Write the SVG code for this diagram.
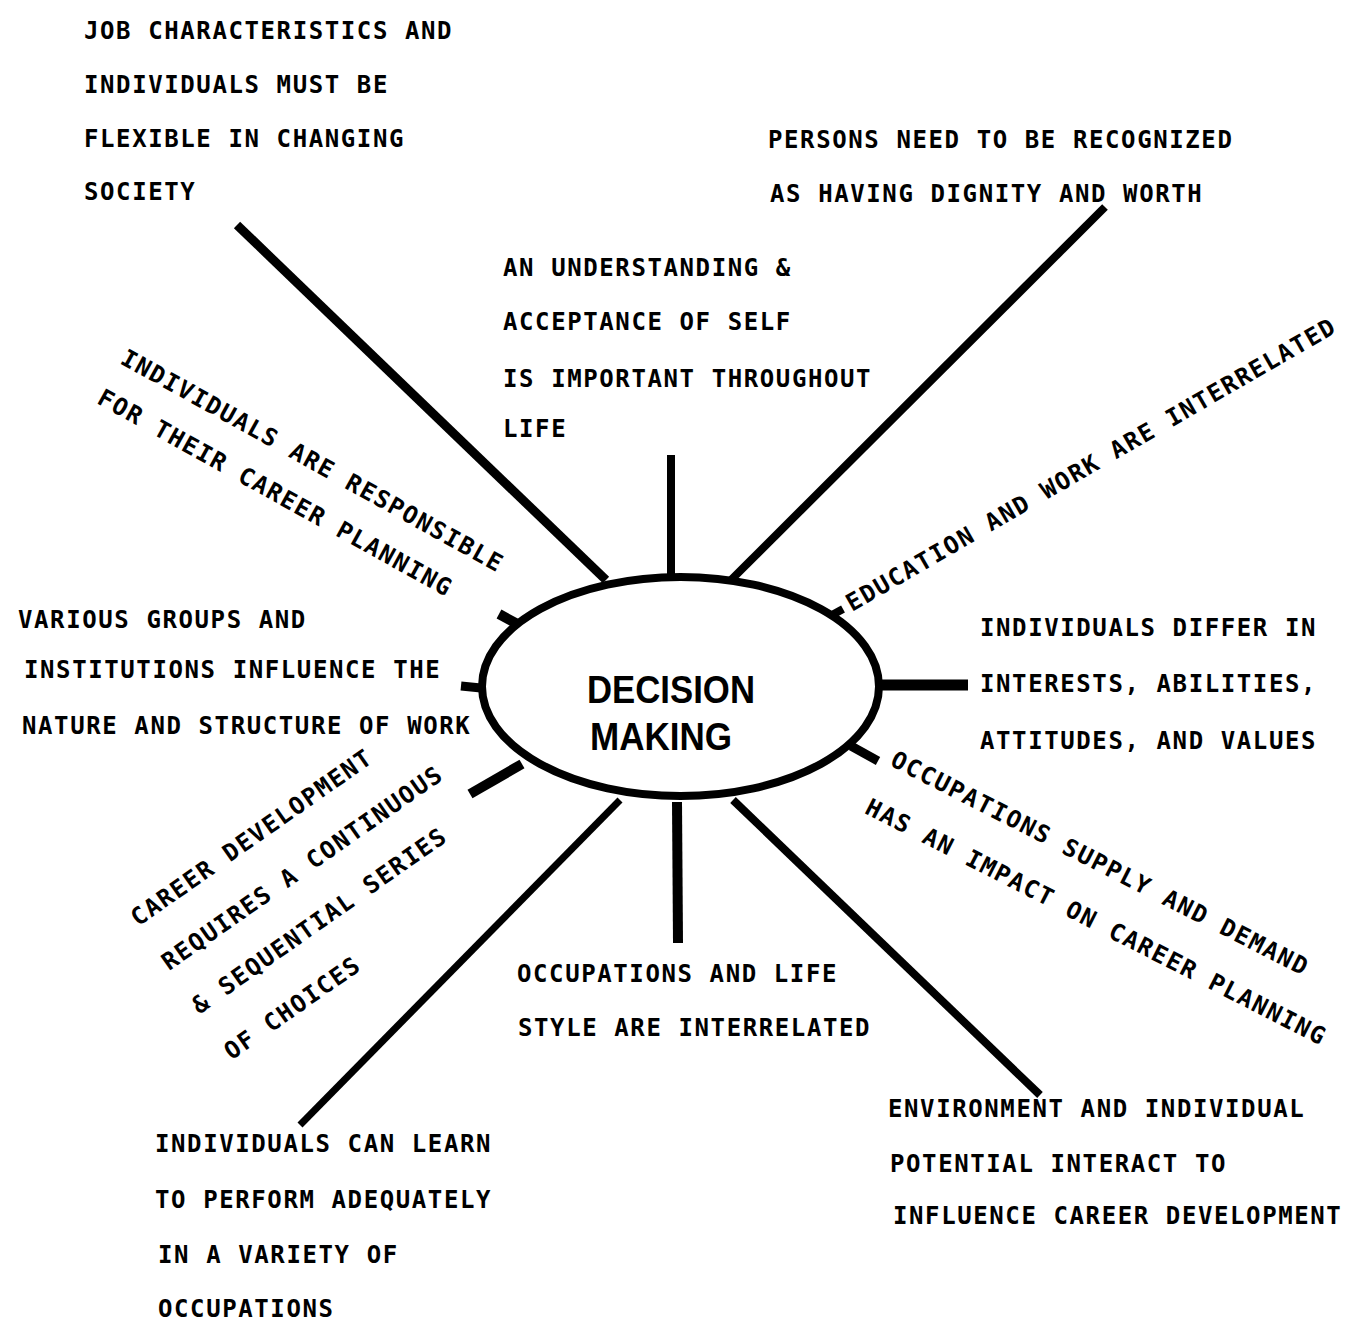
<svg xmlns="http://www.w3.org/2000/svg" width="1356" height="1336" viewBox="0 0 1356 1336">
<style>
.t{font-family:"DejaVu Sans Mono","Liberation Mono",monospace;font-size:24px;font-weight:bold;letter-spacing:1.6px;fill:#000}
.c{font-family:"Liberation Sans","Noto Sans",sans-serif;font-weight:bold;font-size:38px;fill:#000}
.s{stroke:#000;fill:none;stroke-linecap:butt}
</style>
<rect width="1356" height="1336" fill="#fff"/>
<g id="connectors" class="s">
<line x1="237" y1="225" x2="606" y2="580" stroke-width="9"/>
<line x1="671" y1="455" x2="671" y2="576" stroke-width="8"/>
<line x1="1105" y1="207" x2="731" y2="580" stroke-width="8"/>
<line x1="832" y1="615" x2="843" y2="609" stroke-width="8"/>
<line x1="878" y1="685" x2="968" y2="685" stroke-width="11"/>
<line x1="851" y1="746" x2="878" y2="761" stroke-width="9"/>
<line x1="733" y1="800" x2="1040" y2="1095" stroke-width="8"/>
<line x1="677" y1="802" x2="678" y2="943" stroke-width="10"/>
<line x1="620" y1="800" x2="300" y2="1125" stroke-width="7"/>
<line x1="522" y1="764" x2="470" y2="794" stroke-width="10"/>
<line x1="461" y1="686" x2="481" y2="688" stroke-width="9"/>
<line x1="499" y1="614" x2="521" y2="626" stroke-width="10"/>
</g>
<g id="center">
<ellipse cx="680.5" cy="686.5" rx="198.5" ry="109.5" fill="#fff" stroke="#000" stroke-width="8"/>
<text class="c" x="671" y="703" text-anchor="middle" textLength="168" lengthAdjust="spacingAndGlyphs">DECISION</text>
<text class="c" x="661" y="750" text-anchor="middle" textLength="142" lengthAdjust="spacingAndGlyphs">MAKING</text>
</g>
<g id="n-job">
<text class="t" x="84" y="39">JOB CHARACTERISTICS AND</text>
<text class="t" x="84" y="93">INDIVIDUALS MUST BE</text>
<text class="t" x="84" y="147">FLEXIBLE IN CHANGING</text>
<text class="t" x="84" y="200">SOCIETY</text>
</g>
<g id="n-dignity">
<text class="t" x="768" y="148">PERSONS NEED TO BE RECOGNIZED</text>
<text class="t" x="770" y="202">AS HAVING DIGNITY AND WORTH</text>
</g>
<g id="n-self">
<text class="t" x="503" y="276">AN UNDERSTANDING &amp;</text>
<text class="t" x="503" y="330">ACCEPTANCE OF SELF</text>
<text class="t" x="503" y="387">IS IMPORTANT THROUGHOUT</text>
<text class="t" x="503" y="437">LIFE</text>
</g>
<g id="n-responsible" transform="translate(119,363) rotate(29)">
<text class="t" x="0" y="0">INDIVIDUALS ARE RESPONSIBLE</text>
<text class="t" x="-1" y="46">FOR THEIR CAREER PLANNING</text>
</g>
<g id="n-education" transform="translate(852,612) rotate(-30)">
<text class="t" x="0" y="0">EDUCATION AND WORK ARE INTERRELATED</text>
</g>
<g id="n-groups">
<text class="t" x="18" y="628">VARIOUS GROUPS AND</text>
<text class="t" x="24" y="678">INSTITUTIONS INFLUENCE THE</text>
<text class="t" x="22" y="734">NATURE AND STRUCTURE OF WORK</text>
</g>
<g id="n-differ">
<text class="t" x="980" y="636">INDIVIDUALS DIFFER IN</text>
<text class="t" x="980" y="692">INTERESTS, ABILITIES,</text>
<text class="t" x="980" y="749">ATTITUDES, AND VALUES</text>
</g>
<g id="n-supply" transform="translate(889,765) rotate(27)">
<text class="t" x="0" y="0">OCCUPATIONS SUPPLY AND DEMAND</text>
<text class="t" x="-1" y="54">HAS AN IMPACT ON CAREER PLANNING</text>
</g>
<g id="n-career" transform="translate(138,927) rotate(-35)">
<text class="t" x="0" y="0">CAREER DEVELOPMENT</text>
<text class="t" x="0" y="54">REQUIRES A CONTINUOUS</text>
<text class="t" x="0" y="107">&amp; SEQUENTIAL SERIES</text>
<text class="t" x="0" y="163">OF CHOICES</text>
</g>
<g id="n-lifestyle">
<text class="t" x="517" y="982">OCCUPATIONS AND LIFE</text>
<text class="t" x="518" y="1036">STYLE ARE INTERRELATED</text>
</g>
<g id="n-environment">
<text class="t" x="888" y="1117">ENVIRONMENT AND INDIVIDUAL</text>
<text class="t" x="890" y="1172">POTENTIAL INTERACT TO</text>
<text class="t" x="893" y="1224">INFLUENCE CAREER DEVELOPMENT</text>
</g>
<g id="n-learn">
<text class="t" x="155" y="1152">INDIVIDUALS CAN LEARN</text>
<text class="t" x="155" y="1208">TO PERFORM ADEQUATELY</text>
<text class="t" x="158" y="1263">IN A VARIETY OF</text>
<text class="t" x="158" y="1317">OCCUPATIONS</text>
</g>
</svg>
